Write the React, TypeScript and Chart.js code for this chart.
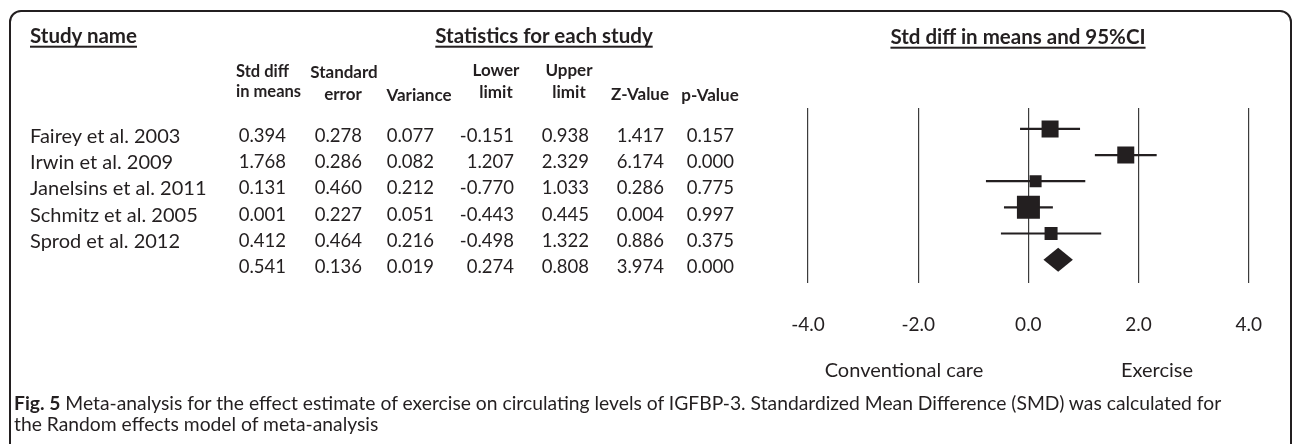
import React, { useEffect, useRef } from "react";
import { Chart, registerables } from "chart.js";

Chart.register(...registerables);

// ---------- data ----------
const studies = [
  "Fairey et al. 2003",
  "Irwin et al. 2009",
  "Janelsins et al. 2011",
  "Schmitz et al. 2005",
  "Sprod et al. 2012",
  "",
];
const stdDiff = [0.394, 1.768, 0.131, 0.001, 0.412, 0.541];
const stdErr = [0.278, 0.286, 0.46, 0.227, 0.464, 0.136];
const variance = [0.077, 0.082, 0.212, 0.051, 0.216, 0.019];
const lowerLimit = [-0.151, 1.207, -0.77, -0.443, -0.498, 0.274];
const upperLimit = [0.938, 2.329, 1.033, 0.445, 1.322, 0.808];
const zValue = [1.417, 6.174, 0.286, 0.004, 0.886, 3.974];
const pValue = [0.157, 0.0, 0.775, 0.997, 0.375, 0.0];
const xTicks = [-4, -2, 0, 2, 4];
const summaryIndex = 5;

// ---------- style ----------
const INK = "#231f20";
const FONT = "Lato, 'Open Sans', sans-serif";
const squareSides = [17, 17, 12, 23, 13];

type Anchor = "left" | "center" | "right";

function Txt(props: {
  x: number;
  y: number;
  anchor?: Anchor;
  size?: number;
  bold?: boolean;
  underline?: boolean;
  children: React.ReactNode;
}) {
  const { x, y, anchor = "left", size = 18, bold = false, underline = false } = props;
  const tx = anchor === "center" ? "-50%" : anchor === "right" ? "-100%" : "0";
  return (
    <div
      style={{
        position: "absolute",
        left: x,
        top: y,
        transform: `translate(${tx}, -50%)`,
        fontSize: size,
        fontWeight: bold ? 700 : 400,
        lineHeight: 1.2,
        whiteSpace: "nowrap",
        textDecoration: underline ? "underline" : "none",
        textUnderlineOffset: 3,
        textDecorationThickness: 1.6,
      }}
    >
      {props.children}
    </div>
  );
}

const rowY = (i: number) => 135 + i * 26.2;

const columns: { values: number[]; right: number }[] = [
  { values: stdDiff, right: 286 },
  { values: stdErr, right: 362 },
  { values: variance, right: 434 },
  { values: lowerLimit, right: 514 },
  { values: upperLimit, right: 589 },
  { values: zValue, right: 664 },
  { values: pValue, right: 734 },
];

export default function App() {
  const canvasRef = useRef<HTMLCanvasElement | null>(null);

  useEffect(() => {
    const canvas = canvasRef.current;
    if (!canvas) return;

    const ciDatasets = stdDiff.slice(0, summaryIndex).map((_, i) => ({
      type: "line" as const,
      data: [
        { x: lowerLimit[i], y: i },
        { x: upperLimit[i], y: i },
      ],
      borderColor: INK,
      borderWidth: 2.2,
      pointRadius: 0,
      fill: false,
      order: 2,
    }));

    const squares = {
      type: "scatter" as const,
      data: stdDiff.slice(0, summaryIndex).map((v, i) => ({ x: v, y: i })),
      pointStyle: "rect" as const,
      pointRadius: squareSides.map((s) => s / 2 / Math.SQRT1_2),
      backgroundColor: INK,
      borderColor: INK,
      borderWidth: 0,
      order: 1,
    };

    const diamondPlugin = {
      id: "diamond",
      afterDatasetsDraw(chart: any) {
        const { ctx, scales } = chart;
        const xs = scales.x;
        const ys = scales.y;
        const yc = ys.getPixelForValue(summaryIndex);
        const xl = xs.getPixelForValue(lowerLimit[summaryIndex]);
        const xr = xs.getPixelForValue(upperLimit[summaryIndex]);
        const xm = xs.getPixelForValue(stdDiff[summaryIndex]);
        const h = 12;
        ctx.save();
        ctx.fillStyle = INK;
        ctx.beginPath();
        ctx.moveTo(xl, yc);
        ctx.lineTo(xm, yc - h);
        ctx.lineTo(xr, yc);
        ctx.lineTo(xm, yc + h);
        ctx.closePath();
        ctx.fill();
        ctx.restore();
      },
    };

    const chart = new Chart(canvas, {
      type: "scatter",
      data: { datasets: [...ciDatasets, squares] as any },
      options: {
        animation: false,
        responsive: false,
        devicePixelRatio: 1,
        events: [],
        layout: { padding: { left: 808, right: 35, top: 108, bottom: 78 } },
        plugins: { legend: { display: false }, tooltip: { enabled: false } },
        scales: {
          x: {
            type: "linear",
            min: -4,
            max: 4,
            afterBuildTicks: (scale: any) => {
              scale.ticks = xTicks.map((v) => ({ value: v }));
            },
            ticks: {
              callback: (v: any) => Number(v).toFixed(1),
              color: INK,
              font: { family: FONT, size: 19 },
              padding: 30,
              maxRotation: 0,
            },
            grid: { color: "#3c3c3c", lineWidth: 1.2, drawTicks: false },
            border: { display: false },
          },
          y: {
            type: "linear",
            min: -0.8,
            max: 5.9,
            reverse: true,
            display: false,
          },
        },
      },
      plugins: [diamondPlugin],
    });

    return () => chart.destroy();
  }, []);

  return (
    <div
      style={{
        position: "absolute",
        left: 0,
        top: 0,
        width: 1292,
        height: 444,
        overflow: "hidden",
        background: "#fff",
        fontFamily: FONT,
        color: INK,
      }}
    >
      <div
        style={{
          position: "absolute",
          left: 9,
          top: 10,
          width: 1283,
          height: 460,
          border: `2px solid ${INK}`,
          borderRadius: 12,
          boxSizing: "border-box",
        }}
      />
      <canvas
        ref={canvasRef}
        width={1292}
        height={444}
        style={{ position: "absolute", left: 0, top: 0, width: 1292, height: 444 }}
      />

      {/* section titles */}
      <Txt x={30} y={35} size={20.5} bold underline>
        Study name
      </Txt>
      <Txt x={544} y={35} size={20.5} bold underline anchor="center">
        Statistics for each study
      </Txt>
      <Txt x={1018} y={36} size={20.5} bold underline anchor="center">
        Std diff in means and 95%CI
      </Txt>

      {/* column headers */}
      <Txt x={236} y={72} size={16.5} bold>Std diff</Txt>
      <Txt x={236} y={92} size={16.5} bold>in means</Txt>
      <Txt x={344} y={72} size={17} bold anchor="center">Standard</Txt>
      <Txt x={343} y={94} size={17} bold anchor="center">error</Txt>
      <Txt x={419} y={95} size={17} bold anchor="center">Variance</Txt>
      <Txt x={496} y={70} size={17} bold anchor="center">Lower</Txt>
      <Txt x={496} y={92} size={17} bold anchor="center">limit</Txt>
      <Txt x={569} y={70} size={17} bold anchor="center">Upper</Txt>
      <Txt x={569} y={92} size={17} bold anchor="center">limit</Txt>
      <Txt x={640} y={94} size={17} bold anchor="center">Z-Value</Txt>
      <Txt x={710} y={95} size={17} bold anchor="center">p-Value</Txt>

      {/* table rows */}
      {studies.map((name, i) => (
        <React.Fragment key={i}>
          {name ? (
            <Txt x={30} y={rowY(i)} size={20}>
              {name}
            </Txt>
          ) : null}
          {columns.map((c, j) => (
            <Txt key={j} x={c.right} y={rowY(i)} size={18.5} anchor="right">
              {c.values[i].toFixed(3)}
            </Txt>
          ))}
        </React.Fragment>
      ))}

      {/* favours labels */}
      <Txt x={904} y={369} size={20} anchor="center">Conventional care</Txt>
      <Txt x={1157} y={369} size={20} anchor="center">Exercise</Txt>

      {/* caption */}
      <Txt x={14} y={403} size={19.3}>
        <b>Fig. 5</b> Meta-analysis for the effect estimate of exercise on circulating levels of
        IGFBP-3. Standardized Mean Difference (SMD) was calculated for
      </Txt>
      <Txt x={14} y={424} size={19.3}>
        the Random effects model of meta-analysis
      </Txt>
    </div>
  );
}
